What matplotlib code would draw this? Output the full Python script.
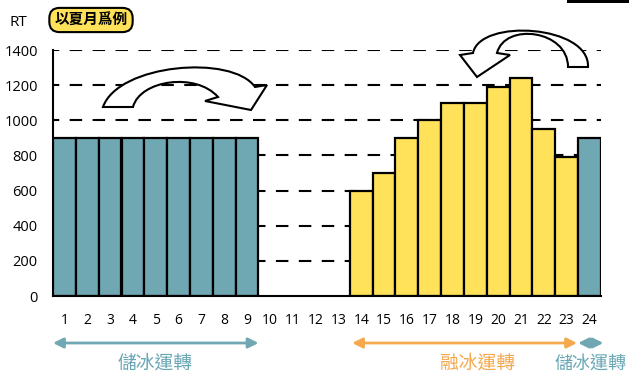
import matplotlib.pyplot as plt
from matplotlib.patches import PathPatch, Rectangle
from matplotlib.path import Path
from matplotlib.transforms import Affine2D

plt.rcParams['font.family'] = ['Open Sans', 'Noto Sans CJK TC', 'DejaVu Sans']

# hourly cooling load (RT), summer example
hours = list(range(1, 25))
load = [900, 900, 900, 900, 900, 900, 900, 900, 900,
        0, 0, 0, 0,
        600, 700, 900, 1000, 1100, 1100, 1190, 1240, 950, 790,
        900]
mode = ['store'] * 9 + ['off'] * 4 + ['melt'] * 10 + ['store']

TEAL = '#6FA7B2'
YELLOW = '#FFE15A'
ORANGE = '#F5A94E'
TEAL_TXT = '#6AA7B5'

W, H = 629, 374
fig = plt.figure(figsize=(W / 100, H / 100), dpi=100)
ax = fig.add_axes([53 / W, 1 - 296 / H, 548 / W, 246 / H])

def px(x, y):
    # image pixel (top-left origin) -> figure fraction
    return x / W, 1 - y / H

# image-pixel coords -> figure
img = Affine2D().scale(1 / W, -1 / H).translate(0, 1) + fig.transFigure

for h, v, m in zip(hours, load, mode):
    if m == 'off':
        continue
    c = TEAL if m == 'store' else YELLOW
    ax.bar(h, v, width=1.0, color=c, edgecolor='black', linewidth=1.6, zorder=3)

for yv in range(200, 1401, 200):
    ax.axhline(yv, color='black', lw=1.5, ls=(3, (6, 5)), zorder=1)

ax.set_xlim(0.5, 24.5)
ax.set_ylim(0, 1400)
ax.set_xticks(hours)
ax.set_yticks(range(0, 1401, 200))
ax.tick_params(length=0, labelsize=10)
ax.tick_params(axis='y', pad=11, labelsize=10.5)
ax.tick_params(axis='x', pad=12)
for s in ['top', 'right']:
    ax.spines[s].set_visible(False)
ax.spines['left'].set_linewidth(1.5)
ax.spines['bottom'].set_linewidth(1.5)
ax.spines['bottom'].set_zorder(4)

# unit + season tag
fig.text(*px(18, 22), 'RT', ha='center', va='center', fontsize=11)
fig.text(*px(91, 20), '以夏月爲例', ha='center', va='center', fontsize=10.5,
         fontweight='bold',
         bbox=dict(boxstyle='round,pad=0.35,rounding_size=0.7', fc=YELLOW,
                   ec='black', lw=1.5))

# operation spans under the axis
span_y = 1 - 343 / H
spans = [(0.5, 9.5, TEAL), (13.6, 23.45, ORANGE), (23.5, 24.6, TEAL)]
for x0, x1, c in spans:
    ax.annotate('', xy=(x0, span_y), xytext=(x1, span_y),
                xycoords=('data', fig.transFigure),
                textcoords=('data', fig.transFigure),
                arrowprops=dict(arrowstyle='<|-|>,head_length=0.6,head_width=0.3',
                                color=c, lw=2, shrinkA=0, shrinkB=0))

span_labels = [('儲冰運轉', 155, TEAL_TXT, 13.5), ('融冰運轉', 477, ORANGE, 13.5),
               ('儲冰運轉', 591, TEAL_TXT, 13)]
for t, x, c, fs in span_labels:
    fig.text(*px(x, 364), t, ha='center', va='center', fontsize=fs, color=c)


def hollow_arrow(outer, inner, head):
    # outer/inner: 4 cubic bezier points each (tail -> head end)
    # head: outer barb, tip, inner barb
    verts = [outer[0], outer[1], outer[2], outer[3],
             head[0], head[1], head[2],
             inner[3], inner[2], inner[1], inner[0], outer[0]]
    codes = ([Path.MOVETO] + [Path.CURVE4] * 3 + [Path.LINETO] * 4
             + [Path.CURVE4] * 3 + [Path.CLOSEPOLY])
    fig.add_artist(PathPatch(Path(verts, codes), transform=img, fc='white',
                             ec='black', lw=1.5, joinstyle='miter', zorder=5))


# storage -> melt (left), melt -> storage (right)
hollow_arrow([(103, 107), (118, 64), (232, 54), (255, 87)],
             [(133, 107), (140, 80), (196, 72), (218, 97)],
             [(267, 85), (251, 110), (205, 101)])
hollow_arrow([(588, 67), (590, 25), (480, 18), (473, 53)],
             [(568, 67), (568, 30), (505, 22), (497, 53)],
             [(460, 55), (477, 77), (510, 55)])

fig.add_artist(Rectangle(px(567, 3), 62 / W, 3 / H, transform=fig.transFigure,
                         fc='black', ec='none'))

fig.savefig('out.png', dpi=100)
